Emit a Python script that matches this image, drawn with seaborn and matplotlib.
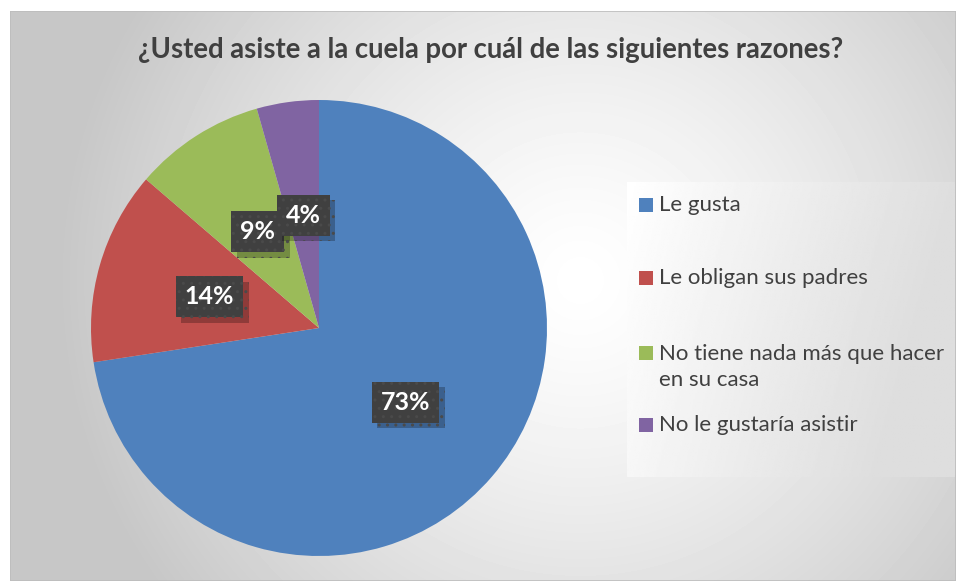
# =========================================
# PIE CHART - RAZONES DE ASISTENCIA
# =========================================

import numpy as np
import seaborn as sns
import matplotlib.pyplot as plt
import matplotlib.patheffects as pe
from matplotlib.patches import Rectangle

sns.set_theme(style="white")
plt.rcParams['font.family'] = ['Lato', 'DejaVu Sans']

# =========================================
# DATA
# =========================================

title = "¿Usted asiste a la cuela por cuál de las siguientes razones?"

categories = [
    "Le gusta",
    "Le obligan sus padres",
    "No tiene nada más que hacer\nen su casa",
    "No le gustaría asistir",
]

shares = [72.6, 13.7, 9.3, 4.4]

colors = ["#4F81BD", "#C0504D", "#9BBB59", "#8064A2"]

# =========================================
# FIGURE + BACKGROUND GRADIENT
# =========================================

W, H = 956, 581
fig = plt.figure(figsize=(W / 100, H / 100), dpi=100)
fig.patch.set_facecolor("white")

bg = fig.add_axes([10 / W, 0, 1 - 10 / W, (H - 11) / H])
bg.set_axis_off()
yy, xx = np.mgrid[11:H, 10:W]
dist = np.hypot(xx - 580, yy - 280)
t = np.clip(dist / 520, 0, 1) ** 1.3
shade = 1 - t * (1 - 0.78)
bg.imshow(shade, cmap="gray", vmin=0, vmax=1, aspect="auto",
          extent=[0, 1, 0, 1], interpolation="bilinear")
bg.set_xlim(0, 1)
bg.set_ylim(0, 1)
bg.add_patch(Rectangle((0, 0), 1, 1, fill=False, edgecolor="#bdbdbd",
                       linewidth=1.2, transform=bg.transAxes))

fig.text(491 / W, 1 - 50 / H, title, ha="center", va="center",
         fontsize=19.8, fontweight="bold", color="#404040")

# =========================================
# PIE
# =========================================

cx, cy, r = 319, 328, 228
ax = fig.add_axes([(cx - r) / W, (H - cy - r) / H, 2 * r / W, 2 * r / H])

wedges, texts, autotexts = ax.pie(
    shares,
    colors=colors,
    startangle=90,
    counterclock=False,
    autopct=lambda p: f"{p:.0f}%",
    pctdistance=0.5,
    wedgeprops=dict(linewidth=0),
)
ax.set_xlim(-1, 1)
ax.set_ylim(-1, 1)
ax.set_aspect("equal")

for txt in autotexts:
    txt.set_color("white")
    txt.set_fontsize(18)
    txt.set_fontweight("bold")
    txt.set_bbox(dict(boxstyle="square,pad=0.36", facecolor="#404040",
                      edgecolor="#4a4a4a", hatch="..", linewidth=0))
    txt.get_bbox_patch().set_path_effects(
        [pe.SimplePatchShadow(offset=(4, -4), shadow_rgbFace="black", alpha=0.25),
         pe.Normal()]
    )

# =========================================
# LEGEND (manual, Excel-like box)
# =========================================

lx0, lx1, ly0, ly1 = 627, 955, 182, 477
leg = fig.add_axes([lx0 / W, 1 - ly1 / H, (lx1 - lx0) / W, (ly1 - ly0) / H])
leg.set_axis_off()
grad = np.linspace(0, 1, 200)[None, :] + np.linspace(0, 0.25, 100)[:, None]
leg.imshow(1 - 0.13 * np.clip(grad, 0, 1), cmap="gray", vmin=0, vmax=1,
           aspect="auto", extent=[0, 1, 0, 1])
leg.set_xlim(0, 1)
leg.set_ylim(0, 1)

entry_y = [205, 278, 353, 425]
for label, col, ey in zip(categories, colors, entry_y):
    fig.patches.append(Rectangle((639 / W, 1 - (ey + 7) / H), 14 / W, 14 / H,
                                 facecolor=col, edgecolor="none",
                                 transform=fig.transFigure, figure=fig))
    n_lines = label.count("\n") + 1
    ty = ey + (n_lines - 1) * 14
    fig.text(659 / W, 1 - ty / H, label, ha="left", va="center",
             fontsize=16, color="#404040", linespacing=1.38)

fig.savefig("out.png", dpi=100)
